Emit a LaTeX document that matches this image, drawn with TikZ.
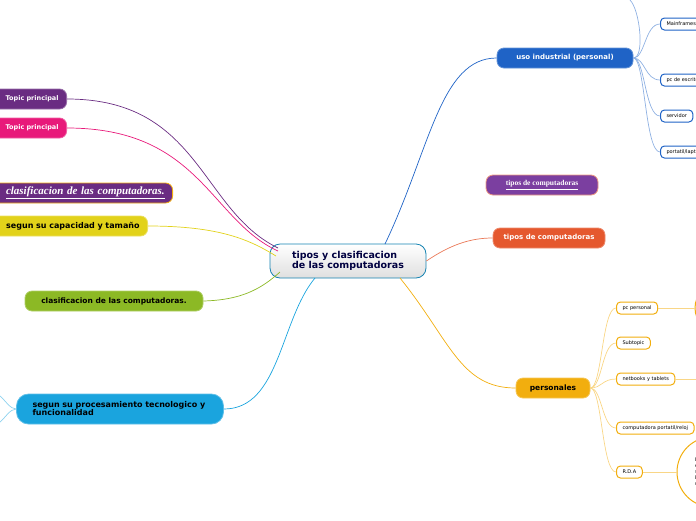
\documentclass[tikz,border=0pt]{standalone}
\usepackage{fontspec}
\setmainfont{DejaVu Sans}
\newfontfamily\serifit{Liberation Serif}
\usetikzlibrary{positioning}

\definecolor{indblue}{HTML}{1F63C6}
\definecolor{lavpurple}{HTML}{7B3FA0}
\definecolor{tipored}{HTML}{E5582E}
\definecolor{persyel}{HTML}{F2AE0E}
\definecolor{topicvio}{HTML}{6A2C82}
\definecolor{topicpink}{HTML}{E8197A}
\definecolor{capyel}{HTML}{E2D21A}
\definecolor{clasgreen}{HTML}{8CB925}
\definecolor{procblue}{HTML}{1AA4DE}

\tikzset{
  topicbox/.style={rounded corners=7pt, draw=#1!70!white, line width=0.8pt, fill=#1,
    font=\bfseries\fontsize{7}{8}\selectfont, text=white, minimum height=20pt, inner xsep=8pt},
  leftbox/.style={topicbox=#1, anchor=east, align=right},
  subbox/.style={rounded corners=4pt, draw=#1, line width=1pt, fill=white,
    font=\fontsize{5}{6}\selectfont, minimum height=12pt, inner xsep=6pt, anchor=west},
  link/.style={#1, line width=0.7pt}
}

\begin{document}
\begin{tikzpicture}[x=1pt,y=-1pt]
\useasboundingbox (0,0) rectangle (696,520);
\clip (0,0) rectangle (696,520);

% central topic
\node[rounded corners=10pt, draw=procblue!80!black, line width=0.8pt, top color=white, bottom color=gray!25,
  text=blue!25!black, font=\bfseries\fontsize{9.5}{10}\selectfont, align=left,
  minimum width=156pt, minimum height=34pt] (root) at (348,261) {tipos y clasificacion\\de las computadoras};

% right main topics
\node[topicbox=indblue, minimum width=136pt] (uso) at (565,58) {uso industrial (personal)};
\node[topicbox=lavpurple, draw=tipored!60, font=\serifit\bfseries\fontsize{7.5}{8}\selectfont, minimum width=112pt]
  (tiposa) at (542,185) {\underline{tipos de computadoras}};
\node[topicbox=tipored, minimum width=112pt] (tiposb) at (549,238) {tipos de computadoras};
\node[topicbox=persyel, text=black, minimum width=74pt, font=\bfseries\fontsize{7.5}{8}\selectfont] (pers) at (553,388) {personales};

% left main topics
\node[leftbox=topicvio, text width=84pt, font=\bfseries\fontsize{6.5}{7}\selectfont] (topa) at (67,99) {Topic principal};
\node[leftbox=topicpink, text width=84pt, font=\bfseries\fontsize{6.5}{7}\selectfont] (topb) at (67,128) {Topic principal};
\node[leftbox=topicvio, draw=persyel, text width=190pt, font=\serifit\bfseries\itshape\fontsize{11}{12}\selectfont]
  (clasa) at (173,193) {\underline{clasificacion de las computadoras.}};
\node[leftbox=capyel, text=black, text width=170pt, font=\bfseries\fontsize{8}{9}\selectfont] (capa) at (148,226) {segun su capacidad y tamaño};
\node[topicbox=clasgreen, text=black, minimum width=178pt, font=\bfseries\fontsize{7.5}{8}\selectfont] (clasb) at (114,301) {clasificacion de las computadoras.};
\node[topicbox=procblue, text=black, text width=175pt, minimum height=30pt, inner xsep=16pt, rounded corners=12pt, align=left,
  font=\bfseries\fontsize{8}{8}\selectfont] (proc) at (120,409) {segun su procesamiento tecnologico y\\funcionalidad};

% uso industrial subtopics
\node[subbox=indblue] (mainf) at (660,24) {Mainframes y supercomputadoras};
\node[subbox=indblue] (escr) at (660,80) {pc de escritorio};
\node[subbox=indblue] (serv) at (660,116) {servidor};
\node[subbox=indblue] (port) at (660,152) {portatil/laptop};
\coordinate (usotop) at (630,0);
\coordinate (usofork) at (645,58);

% personales subtopics
\node[subbox=persyel] (pcp) at (616,308) {pc personal};
\node[subbox=persyel] (subt) at (616,343) {Subtopic};
\node[subbox=persyel] (netb) at (616,379) {netbooks y tablets};
\node[subbox=persyel] (comp) at (616,428) {computadora portatil/reloj};
\node[subbox=persyel] (rda) at (616,472) {R.D.A};
\node[circle, draw=persyel, line width=1pt, minimum size=50pt] (pcc) at (720,308) {};
\node[circle, draw=persyel, line width=1pt, minimum size=70pt, align=left, font=\fontsize{5}{6}\selectfont] (rdac) at (712,472) {D\hspace*{30pt}\\e\\s\\b\\u};
\coordinate (netend) at (696,379);
\coordinate (persfork) at (602,388);

% connectors from the centre
\draw[link=indblue] (385,244) .. controls (430,150) and (440,58) .. (uso.west);
\draw[link=tipored!80] (root.east) .. controls (450,245) and (470,238) .. (tiposb.west);
\draw[link=persyel] (400,278) .. controls (450,340) and (460,388) .. (pers.west);
\draw[link=topicvio] (topa.east) .. controls (200,99) and (200,210) .. (278,248);
\draw[link=topicpink] (topb.east) .. controls (200,128) and (210,220) .. (278,251);
\draw[link=capyel] (capa.east) .. controls (220,226) and (250,240) .. (276,256);
\draw[link=clasgreen] (clasb.east) .. controls (240,300) and (260,290) .. (280,272);
\draw[link=procblue] (proc.east) .. controls (280,409) and (280,320) .. (315,278);
\draw[link=procblue!50] (proc.west) .. controls (10,409) and (5,400) .. (0,396);
\draw[link=procblue!50] (proc.west) .. controls (10,409) and (5,418) .. (0,422);

% uso industrial branches
\foreach \t in {mainf,escr,serv,port}
  \draw[link=indblue!50] (uso.east) .. controls (usofork) and (\t.west -| usofork) .. (\t.west);
\draw[link=indblue!50] (uso.east) .. controls (usofork) and (640,10) .. (usotop);

% personales branches
\foreach \t in {pcp,subt,netb,comp,rda}
  \draw[link=persyel!50] (pers.east) .. controls (persfork) and (\t.west -| persfork) .. (\t.west);
\draw[link=persyel!50] (pcp.east) -- (pcc.west);
\draw[link=persyel!50] (netb.east) -- (netend);
\draw[link=persyel!50] (rda.east) -- (rdac.west);
\end{tikzpicture}
\end{document}
